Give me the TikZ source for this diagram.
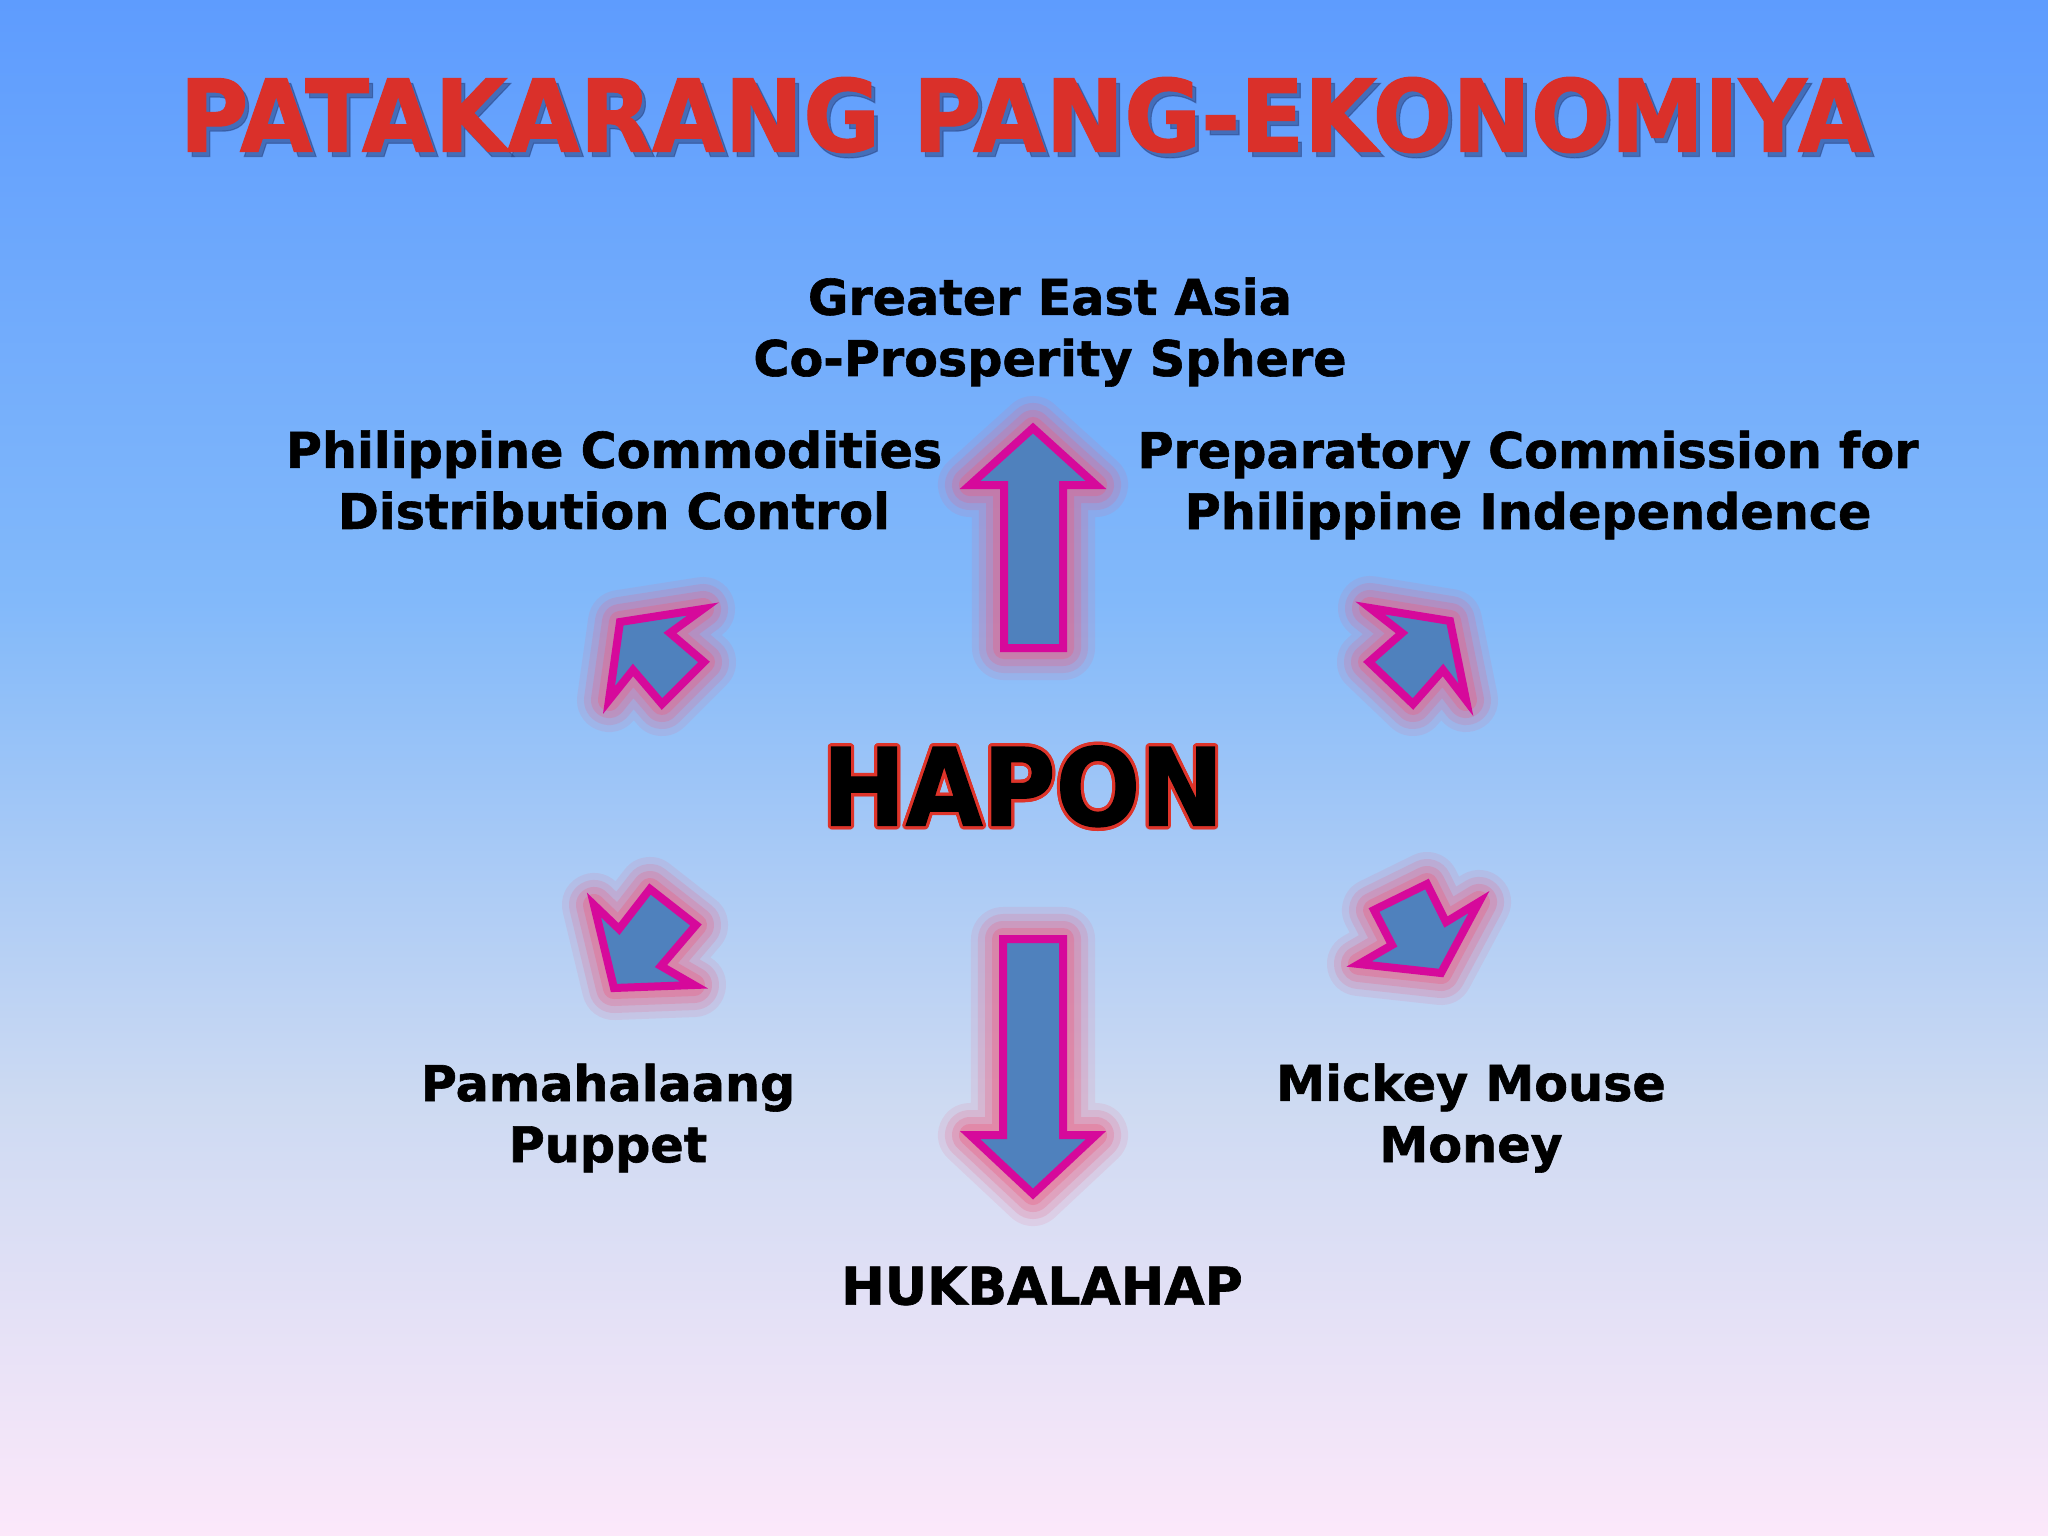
\documentclass[tikz,border=0pt]{standalone}
\usepackage{fontspec}
\setmainfont{DejaVu Sans}[BoldFeatures={FakeBold=1.2}]
\usepackage[copies]{contour}
\usepackage{tikz}

\definecolor{bgtop}{RGB}{94,156,254}
\definecolor{bgmidA}{RGB}{130,185,250}
\definecolor{bgmidB}{RGB}{205,218,242}
\definecolor{bgbottom}{RGB}{252,232,250}
\definecolor{titlered}{RGB}{218,48,42}
\definecolor{titleshade}{RGB}{45,75,140}
\definecolor{haponred}{RGB}{222,52,42}
\definecolor{arrowfill}{RGB}{79,129,189}
\definecolor{arrowedge}{RGB}{214,9,155}
\definecolor{glowpink}{RGB}{235,95,130}

\contourlength{0.9pt}

\tikzset{
    itemtext/.style={font=\bfseries\fontsize{14}{17.4}\selectfont, align=center, inner sep=0pt},
    titletext/.style={font=\bfseries\fontsize{25.9}{30}\selectfont, inner sep=0pt},
    blockarrow/.style={draw=arrowedge, fill=arrowfill, line width=0.08cm, line join=miter}
}

% block arrow with a soft pink glow
\newcommand{\glowarrow}[1]{
    \foreach \w/\o in {0.64/0.12, 0.50/0.18, 0.36/0.25, 0.22/0.35} {
        \draw[glowpink, line width=\w cm, opacity=\o, line join=round] #1 -- cycle;
    }
    \draw[blockarrow] #1 -- cycle;
}

\begin{document}
\begin{tikzpicture}[x=0.01cm, y=-0.01cm]

    % Background
    \useasboundingbox (0,0) rectangle (2048,1536);
    \fill[top color=bgtop, bottom color=bgmidA] (0,0) rectangle (2048,601);
    \fill[top color=bgmidA, bottom color=bgmidB] (0,600) rectangle (2048,1101);
    \fill[top color=bgmidB, bottom color=bgbottom] (0,1100) rectangle (2048,1536);

    % Title
    \node[titletext, text=titleshade, opacity=0.6] (titleshadow) at (1029,120)
        {\scalebox{1.03}[1.1]{PATAKARANG PANG-EKONOMIYA}};
    \node[titletext, text=titlered] (title) at (1025,115)
        {\scalebox{1.03}[1.1]{PATAKARANG PANG-EKONOMIYA}};

    % Centre
    \node[inner sep=0pt, font=\bfseries\fontsize{28.3}{34}\selectfont] (hapon) at (1023,788)
        {\scalebox{1}[1.08]{\contour{haponred}{HAPON}}};

    % Labels
    \node[itemtext] (gea) at (1050,332) {Greater East Asia\\Co-Prosperity Sphere};
    \node[itemtext] (pcdc) at (614,480) {Philippine Commodities\\Distribution Control};
    \node[itemtext] (pcpi) at (1528,485) {Preparatory Commission for\\Philippine Independence};
    \node[itemtext] (puppet) at (608,1118) {Pamahalaang\\Puppet};
    \node[itemtext] (money) at (1471,1118) {Mickey Mouse\\Money};
    \node[itemtext, font=\bfseries\fontsize{14.8}{18}\selectfont] (huk) at (1042,1286) {HUKBALAHAP};

    % Big arrows: up and down
    \glowarrow{(1033,428) -- (1096,485) -- (1063,485) -- (1063,648) -- (1004,648) -- (1004,485) -- (970,485)}
    \glowarrow{(1033,1194) -- (1096,1135) -- (1063,1135) -- (1063,939) -- (1003,939) -- (1003,1135) -- (970,1135)}

    % Small arrows: up-left, up-right
    \glowarrow{(620,622) -- (703,609) -- (670,633) -- (704,662) -- (662,704) -- (633,670) -- (609,700)}
    \glowarrow{(1450,621) -- (1370,608) -- (1402,633) -- (1369,662) -- (1413,704) -- (1443,670) -- (1466,700)}

    % Small arrows: down-left, down-right
    \glowarrow{(594,905) -- (619,929) -- (650,889) -- (696,925) -- (661,966) -- (694,985) -- (614,988)}
    \glowarrow{(1374,910) -- (1427,884) -- (1446,922) -- (1479,902) -- (1441,973) -- (1359,964) -- (1392,945)}

\end{tikzpicture}
\end{document}
